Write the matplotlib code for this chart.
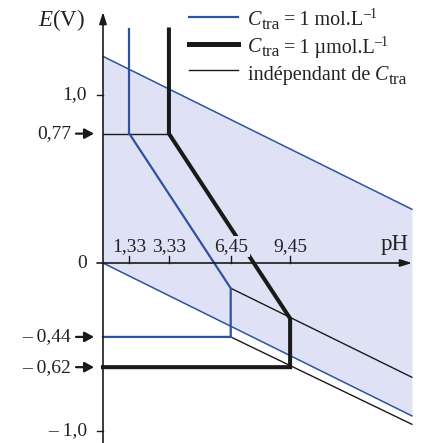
"""
Diagramme E-pH du fer (Ctra = 1 mol/L et 1 µmol/L)
Sortie : out.png (423 x 443 px)
"""
import matplotlib
matplotlib.use("Agg")
import matplotlib.pyplot as plt
from matplotlib.transforms import IdentityTransform

plt.rcParams["font.family"] = ["Liberation Serif", "DejaVu Serif"]
plt.rcParams["mathtext.fontset"] = "custom"
plt.rcParams["mathtext.rm"] = "Liberation Serif"
plt.rcParams["mathtext.it"] = "Liberation Serif:italic"

# --- données (pH, E en V) ---
PH_END = 15.6
E_TOP = 1.39

# droites de l'eau
o2_ph = [0, PH_END]
o2_e = [1.23, 0.32]
h2_ph = [0, PH_END]
h2_e = [0.0, -0.91]

# Ctra = 1 mol/L (bleu)
blue_vert_ph = [1.33, 1.33]
blue_vert_e = [E_TOP, 0.77]
blue_ph = [1.33, 6.45, 6.45, 0]
blue_e = [0.77, -0.15, -0.44, -0.44]

# Ctra = 1 µmol/L (épais noir)
thick_ph = [3.33, 3.33, 9.45, 9.45, 0]
thick_e = [E_TOP, 0.77, -0.33, -0.62, -0.62]

# indépendant de Ctra (fin noir)
fe32_ph = [0, 3.33]
fe32_e = [0.77, 0.77]
hyd3_ph = [6.45, PH_END]
hyd3_e = [-0.15, -0.68]
hyd2_ph = [6.45, PH_END]
hyd2_e = [-0.44, -0.96]

xticks_ph = [1.33, 3.33, 6.45, 9.45]
xtick_labels = ["1,33", "3,33", "6,45", "9,45"]
yticks_plain = [1.0, 0.0, -1.0]
yticks_plain_labels = ["1,0", "0", "– 1,0"]
yticks_arrow = [0.77, -0.44, -0.62]
yticks_arrow_labels = ["0,77", "– 0,44", "– 0,62"]

BLUE = "#2f52a0"
FILL = "#dfe2f5"
INK = "#1a1a1a"
FS = 14.0
FS_LEG = 14.5

# repère pixel -> données : x = 103 + 19.8*pH, y = 263 - 168*E
PX, PY = 19.8, 168.0


def px(x):
    return (x - 103) / PX


def py(y):
    return (263 - y) / PY


fig = plt.figure(figsize=(4.23, 4.43), dpi=100)
ax = fig.add_axes([0, 0, 1, 1])
ax.set_xlim(px(0), px(423))
ax.set_ylim(py(443), py(0))
ax.axis("off")
renderer = fig.canvas.get_renderer()

# domaine de stabilité de l'eau
ax.fill_between(o2_ph, h2_e, o2_e, color=FILL, lw=0, zorder=0)
ax.plot(o2_ph, o2_e, color=BLUE, lw=1.1, zorder=2)
ax.plot(h2_ph, h2_e, color=BLUE, lw=1.1, zorder=2)

# frontières
ax.plot(fe32_ph, fe32_e, color=INK, lw=1.0, zorder=3)
ax.plot(hyd3_ph, hyd3_e, color=INK, lw=1.0, zorder=3)
ax.plot(hyd2_ph, hyd2_e, color=INK, lw=1.0, zorder=3)
ax.plot(thick_ph, thick_e, color=INK, lw=2.9, zorder=3,
        solid_joinstyle="miter")
ax.plot(blue_vert_ph, blue_vert_e, color=BLUE, lw=1.6, zorder=5)
ax.plot(blue_ph, blue_e, color=BLUE, lw=1.6, zorder=5, solid_joinstyle="miter")

# axes
ax.annotate("", xy=(0, py(12)), xytext=(0, py(443)),
            arrowprops=dict(arrowstyle="-|>,head_length=0.7,head_width=0.22",
                            color=INK, lw=1.2, shrinkA=0, shrinkB=0),
            zorder=6)
ax.annotate("", xy=(px(412), 0), xytext=(px(97), 0),
            arrowprops=dict(arrowstyle="-|>,head_length=0.7,head_width=0.22",
                            color=INK, lw=1.2, shrinkA=0, shrinkB=0),
            zorder=6)

# graduations pH
for x, lab in zip(xticks_ph, xtick_labels):
    ax.plot([x, x], [0, py(256)], color=INK, lw=1.0, zorder=6)
    ax.text(x, py(251), lab, fontsize=FS, ha="center",
            va="baseline", color="#222222", zorder=4,
            bbox=dict(boxstyle="square,pad=0.1", fc=FILL, ec="none"))
ax.text(px(395), py(250), "pH", fontsize=16.5, ha="center", va="baseline",
        color="#222222")

# graduations E
for e, lab in zip(yticks_plain, yticks_plain_labels):
    if e != 0:
        ax.plot([px(97), 0], [e, e], color=INK, lw=1.0)
    ax.text(px(87), e, lab, fontsize=FS, ha="right", va="center",
            color="#222222")
for e, lab in zip(yticks_arrow, yticks_arrow_labels):
    ax.text(px(71), e, lab, fontsize=FS, ha="right", va="center",
            color="#222222")
    ax.annotate("", xy=(px(94), e), xytext=(px(76), e),
                arrowprops=dict(arrowstyle="-|>,head_length=0.55,head_width=0.3",
                                color=INK, lw=1.6, shrinkA=0, shrinkB=0,
                                mutation_scale=10))
ax.text(px(85), py(20), "$E$(V)", fontsize=16.5, ha="right", va="center",
        color="#222222")


def rich(x, y, parts):
    """Texte composé de morceaux (texte, taille, style, décalage vertical px)."""
    x0, y0 = ax.transData.transform((x, y))
    for txt, size, style, dy in parts:
        t = ax.text(x0, y0 + dy, txt, fontsize=size, style=style,
                    ha="left", va="baseline", color="#222222",
                    transform=IdentityTransform())
        x0 = t.get_window_extent(renderer).x1


# légende
SUB, SUP = 12.5, 10
leg = [
    (BLUE, 1.6, [("C", FS_LEG, "italic", 0), ("tra", SUB, "normal", -4),
                 ("\u2009=\u20091 mol.L", FS_LEG, "normal", 0),
                 ("–1", SUP, "normal", 7)]),
    (INK, 3.6, [("C", FS_LEG, "italic", 0), ("tra", SUB, "normal", -4),
                ("\u2009=\u20091 µmol.L", FS_LEG, "normal", 0),
                ("–1", SUP, "normal", 7)]),
    (INK, 1.0, [("indépendant de ", FS_LEG, "normal", 0),
                ("C", FS_LEG, "italic", 0), ("tra", SUB, "normal", -4)]),
]
for i, (c, lw, parts) in enumerate(leg):
    ax.plot([px(189), px(238)], [py(17 + 26.5 * i)] * 2, color=c, lw=lw)
    rich(px(248), py(25 + 27.5 * i), parts)

fig.savefig("out.png", dpi=100, facecolor="white")
